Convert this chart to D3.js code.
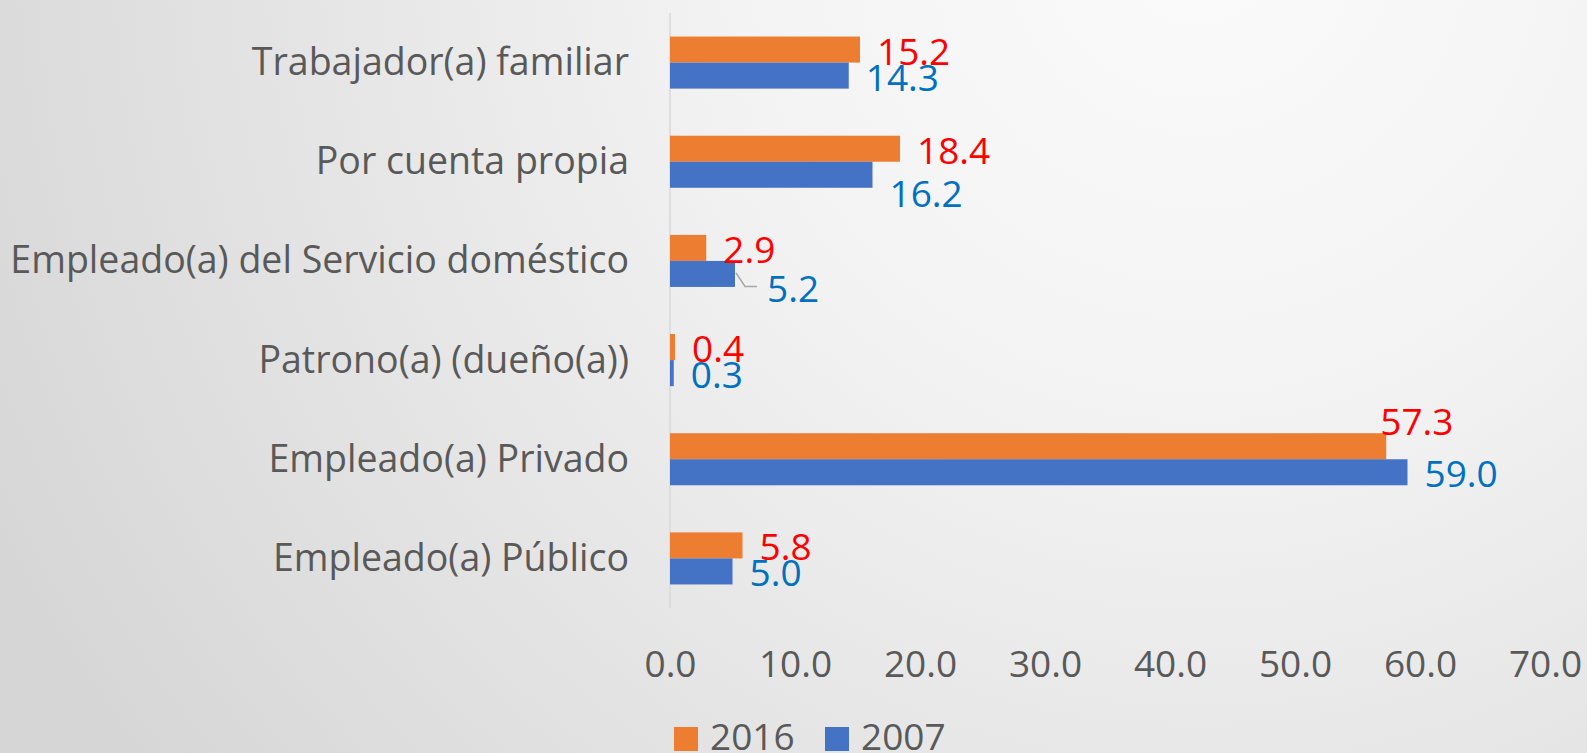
<!DOCTYPE html>
<html>
<head>
<meta charset="utf-8">
<script src="https://cdn.jsdelivr.net/npm/d3@7"></script>
<style>
  html, body { margin: 0; padding: 0; background: #e6e6e6; }
  svg { display: block; font-family: "Open Sans", "Noto Sans", sans-serif; }
</style>
</head>
<body>
<div id="chart"></div>
<script>
// categories, top to bottom
const categories = [
  "Trabajador(a) familiar",
  "Por cuenta propia",
  "Empleado(a) del Servicio doméstico",
  "Patrono(a) (dueño(a))",
  "Empleado(a) Privado",
  "Empleado(a) Público"
];
const seriesNames = ["2016", "2007"];
const values2016 = [15.2, 18.4, 2.9, 0.4, 57.3, 5.8];
const values2007 = [14.3, 16.2, 5.2, 0.3, 59.0, 5.0];
const xTicks = [0, 10, 20, 30, 40, 50, 60, 70];

const widthValue = 1587;
const heightValue = 753;

const colors = { "2016": "#ED7D31", "2007": "#4472C4" };
const labelColors = { "2016": "#FF0000", "2007": "#0070C0" };
const textGray = "#595959";

// labels that were dragged by hand in the original
const labelNudge = {
  "2007|Por cuenta propia": { dx: 0, dy: 17 },
  "2007|Empleado(a) del Servicio doméstico": { dx: 15, dy: 13, leader: true },
  "2016|Empleado(a) Privado": { dx: -23, dy: -26 }
};

const rows = [];
categories.forEach((c, i) => {
  rows.push({ cat: c, series: "2016", value: values2016[i] });
  rows.push({ cat: c, series: "2007", value: values2007[i] });
});

const svg = d3.select("#chart").append("svg")
  .attr("width", widthValue)
  .attr("height", heightValue);

// background gradient
const defs = svg.append("defs");
const grad = defs.append("radialGradient")
  .attr("id", "bg")
  .attr("gradientUnits", "userSpaceOnUse")
  .attr("cx", 1200).attr("cy", -60).attr("r", 1350);
grad.append("stop").attr("offset", "0%").attr("stop-color", "#fbfbfb");
grad.append("stop").attr("offset", "35%").attr("stop-color", "#f3f3f3");
grad.append("stop").attr("offset", "100%").attr("stop-color", "#d6d6d6");
svg.append("rect").attr("width", widthValue).attr("height", heightValue).attr("fill", "url(#bg)");

const x = d3.scaleLinear().domain([0, 70]).range([670, 1545]);
const y = d3.scaleBand().domain(categories).range([13, 608])
  .paddingInner(0.475).paddingOuter(0.2375);
const ySub = d3.scaleBand().domain(seriesNames).range([0, y.bandwidth()]);

// x axis: labels only
const gx = svg.append("g")
  .attr("transform", "translate(0,677)")
  .call(d3.axisBottom(x).tickValues(xTicks).tickFormat(d3.format(".1f")).tickSize(0).tickPadding(0));
gx.select(".domain").remove();
gx.selectAll("text")
  .attr("dy", 0)
  .attr("y", 0)
  .attr("fill", textGray)
  .style("font-size", "37px")
  .style("font-family", "'Open Sans', sans-serif");

// y axis: category labels + vertical line
const gy = svg.append("g")
  .attr("transform", "translate(629,0)")
  .call(d3.axisLeft(y).tickSize(0).tickPadding(0));
gy.select(".domain").remove();
gy.selectAll("text")
  .attr("x", 0)
  .attr("dy", 12.5)
  .attr("fill", textGray)
  .style("font-size", "37.5px")
  .style("font-family", "'Open Sans', sans-serif");

svg.append("line")
  .attr("x1", x(0)).attr("x2", x(0))
  .attr("y1", 13).attr("y2", 608)
  .attr("stroke", "#d9d9d9")
  .attr("stroke-width", 1.5);

// bars
svg.append("g").selectAll("rect")
  .data(rows)
  .enter()
  .append("rect")
    .attr("x", x(0))
    .attr("y", d => y(d.cat) + ySub(d.series))
    .attr("width", d => x(d.value) - x(0))
    .attr("height", ySub.bandwidth())
    .attr("fill", d => colors[d.series]);

// leader line(s)
rows.filter(d => (labelNudge[d.series + "|" + d.cat] || {}).leader).forEach(d => {
  const xe = x(d.value);
  const cy = y(d.cat) + ySub(d.series) + ySub.bandwidth() / 2;
  svg.append("polyline")
    .attr("points", [[xe + 1, cy - 1], [xe + 10, cy + 12.5], [xe + 22, cy + 12.5]].map(p => p.join(",")).join(" "))
    .attr("fill", "none")
    .attr("stroke", "#a6a6a6")
    .attr("stroke-width", 1.5);
});

// data labels
svg.append("g").selectAll("text")
  .data(rows)
  .enter()
  .append("text")
    .attr("x", d => x(d.value) + 17 + ((labelNudge[d.series + "|" + d.cat] || {}).dx || 0))
    .attr("y", d => y(d.cat) + ySub(d.series) + ySub.bandwidth() / 2 + 15 + ((labelNudge[d.series + "|" + d.cat] || {}).dy || 0))
    .attr("fill", d => labelColors[d.series])
    .style("font-size", "37px")
    .text(d => d3.format(".1f")(d.value));

// legend
const legend = svg.append("g").selectAll("g")
  .data(seriesNames)
  .enter()
  .append("g")
    .attr("transform", (d, i) => `translate(${674 + i * 151},0)`);
legend.append("rect")
  .attr("x", 0).attr("y", 727)
  .attr("width", 24).attr("height", 24)
  .attr("fill", d => colors[d]);
legend.append("text")
  .attr("x", 36).attr("y", 750)
  .attr("fill", textGray)
  .style("font-size", "37px")
  .text(d => d);
</script>
</body>
</html>
